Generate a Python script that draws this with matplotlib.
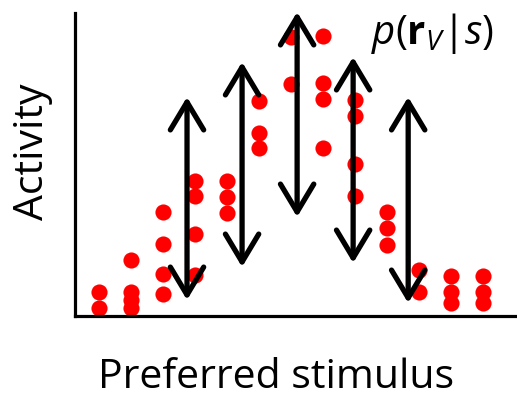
import matplotlib
matplotlib.use("Agg")
import matplotlib.pyplot as plt

plt.rcParams['font.family'] = ['Open Sans', 'DejaVu Sans']
plt.rcParams['mathtext.fontset'] = 'custom'
plt.rcParams['mathtext.rm'] = 'Open Sans'
plt.rcParams['mathtext.it'] = 'Open Sans:italic'
plt.rcParams['mathtext.bf'] = 'Open Sans:bold'

# preferred stimulus of each neuron column and the activity samples of each
stimulus = [1, 2, 3, 4, 5, 6, 7, 8, 9, 10, 11, 12, 13]
activity = [
    [24, 8],
    [56, 24, 16, 8],
    [104, 72, 42, 22],
    [135, 120, 82, 41],
    [135, 119, 103],
    [215, 183, 168],
    [279, 232],
    [280, 233, 217, 168],
    [216, 200, 152, 120],
    [104, 88, 71],
    [46, 24],
    [40, 24, 13],
    [40, 24, 13],
]

# variability arrows: stimulus position, low end, high end
arrow_x = [3.75, 5.47, 7.19, 8.94, 10.66]
arrow_low = [16, 49, 99, 53, 13]
arrow_high = [219, 254, 304, 259, 219]

fig = plt.figure(figsize=(5.17, 4.0), dpi=100)
ax = fig.add_axes([75 / 517, 84 / 400, 442 / 517, 303 / 400])

xs, ys = [], []
for s, acts in zip(stimulus, activity):
    for a in acts:
        xs.append(s)
        ys.append(a)
ax.scatter(xs, ys, s=135, color='#ff0000', linewidths=0, zorder=2, clip_on=False)

for x, lo, hi in zip(arrow_x, arrow_low, arrow_high):
    ax.annotate('', xy=(x, hi), xytext=(x, lo),
                arrowprops=dict(arrowstyle='<->,head_length=2.0,head_width=1.2',
                                lw=3.8, color='black', shrinkA=0, shrinkB=0,
                                capstyle='round', joinstyle='round'),
                zorder=3, annotation_clip=False)

ax.set_xlim(0.25, 14.06)
ax.set_ylim(0, 303)
ax.set_xticks([])
ax.set_yticks([])
for side in ['top', 'right']:
    ax.spines[side].set_visible(False)
for side in ['left', 'bottom']:
    ax.spines[side].set_linewidth(2.3)
    ax.spines[side].set_color('black')

fig.text(33 / 517, 1 - 152 / 400, 'Activity', rotation=90, fontsize=29.5,
         ha='center', va='center')
fig.text(276 / 517, 1 - 378 / 400, 'Preferred stimulus', fontsize=29.5,
         ha='center', va='center')
fig.text(371 / 517, 1 - 34 / 400, r'$p(\mathbf{r}_V|s)$', fontsize=29,
         ha='left', va='center')

fig.savefig('out.png', dpi=100)
